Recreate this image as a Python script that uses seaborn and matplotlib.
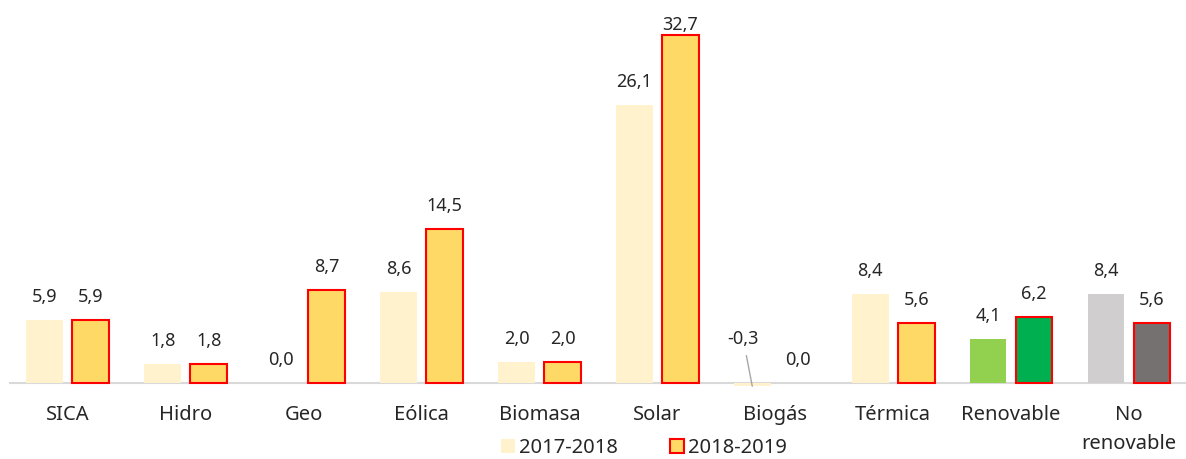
import matplotlib
matplotlib.use("Agg")
import matplotlib.pyplot as plt
import seaborn as sns
import pandas as pd
from matplotlib.patches import Patch

categories = ["SICA", "Hidro", "Geo", "Eólica", "Biomasa", "Solar", "Biogás",
              "Térmica", "Renovable", "No\nrenovable"]
series_names = ["2017-2018", "2018-2019"]
values_2017_2018 = [5.9, 1.8, 0.0, 8.6, 2.0, 26.1, -0.3, 8.4, 4.1, 8.4]
values_2018_2019 = [5.9, 1.8, 8.7, 14.5, 2.0, 32.7, 0.0, 5.6, 6.2, 5.6]

sns.set_theme(style="white")
plt.rcParams['font.family'] = ['Noto Sans', 'DejaVu Sans']

df = pd.DataFrame({
    "cat": categories * 2,
    "serie": [series_names[0]] * len(categories) + [series_names[1]] * len(categories),
    "val": values_2017_2018 + values_2018_2019,
})

C_LIGHT = "#FFF2CC"
C_GOLD = "#FFD966"
RED = "#FF0000"
TXT = "#262626"
special_light = {"Renovable": "#92D050", "No\nrenovable": "#D0CECE"}
special_dark = {"Renovable": "#00B050", "No\nrenovable": "#767171"}

fig = plt.figure(figsize=(11.86, 4.59), dpi=100)
ax = fig.add_axes([8.9 / 1186, 0.1516, 1179 / 1186, 0.802])

sns.barplot(data=df, x="cat", y="val", hue="serie", order=categories,
            hue_order=series_names, palette=[C_LIGHT, C_GOLD],
            width=0.78, gap=0.2, ax=ax, legend=False, errorbar=None)

ax.set_xlim(-0.5, 9.5)
ax.set_ylim(-0.6, 34)

light_bars = ax.containers[0]
dark_bars = ax.containers[1]
for cat, p in zip(categories, light_bars):
    p.set_facecolor(special_light.get(cat, C_LIGHT))
    p.set_edgecolor("none")
    p.set_linewidth(0)
for i, (cat, p) in enumerate(zip(categories, dark_bars)):
    p.set_facecolor(special_dark.get(cat, C_GOLD))
    if values_2018_2019[i] != 0:
        p.set_edgecolor(RED)
        p.set_linewidth(1.5)
    else:
        p.set_linewidth(0)

ax.axhline(0, color="#D9D9D9", lw=1.5, zorder=0.5)

def fmt(v):
    return f"{v:.1f}".replace(".", ",")

top_disp = ax.transData.transform((0, 33.65))[1]
for vals, bars in ((values_2017_2018, light_bars), (values_2018_2019, dark_bars)):
    for v, p in zip(vals, bars):
        xc = p.get_x() + p.get_width() / 2
        if v < 0:
            ax.annotate(fmt(v), xy=(xc, v), xytext=(-9, 47),
                        textcoords="offset pixels", ha="center", va="center",
                        fontsize=13, color=TXT,
                        arrowprops=dict(arrowstyle="-", color="#A6A6A6", lw=1,
                                        shrinkA=3, shrinkB=0))
        else:
            vd = ax.transData.transform((0, v))[1]
            off = min(23, top_disp - vd)
            ax.annotate(fmt(v), xy=(xc, v), xytext=(0, off),
                        textcoords="offset pixels", ha="center", va="center",
                        fontsize=13, color=TXT)

ax.set_xlabel("")
ax.set_ylabel("")
ax.set_yticks([])
ax.tick_params(axis="x", length=0, pad=11, labelsize=14.5, labelcolor=TXT)
for lab in ax.get_xticklabels():
    lab.set_linespacing(1.65)
for s in ax.spines.values():
    s.set_visible(False)

handles = [Patch(facecolor=C_LIGHT, edgecolor="none", label=series_names[0]),
           Patch(facecolor=C_GOLD, edgecolor=RED, linewidth=1.5, label=series_names[1])]
fig.legend(handles=handles, loc="lower center", bbox_to_anchor=(0.543, -0.038),
           ncol=2, frameon=False, fontsize=14.5, handlelength=0.7, handleheight=0.7,
           handletextpad=0.2, columnspacing=2.6, labelcolor=TXT)

fig.savefig("out.png", dpi=100)
